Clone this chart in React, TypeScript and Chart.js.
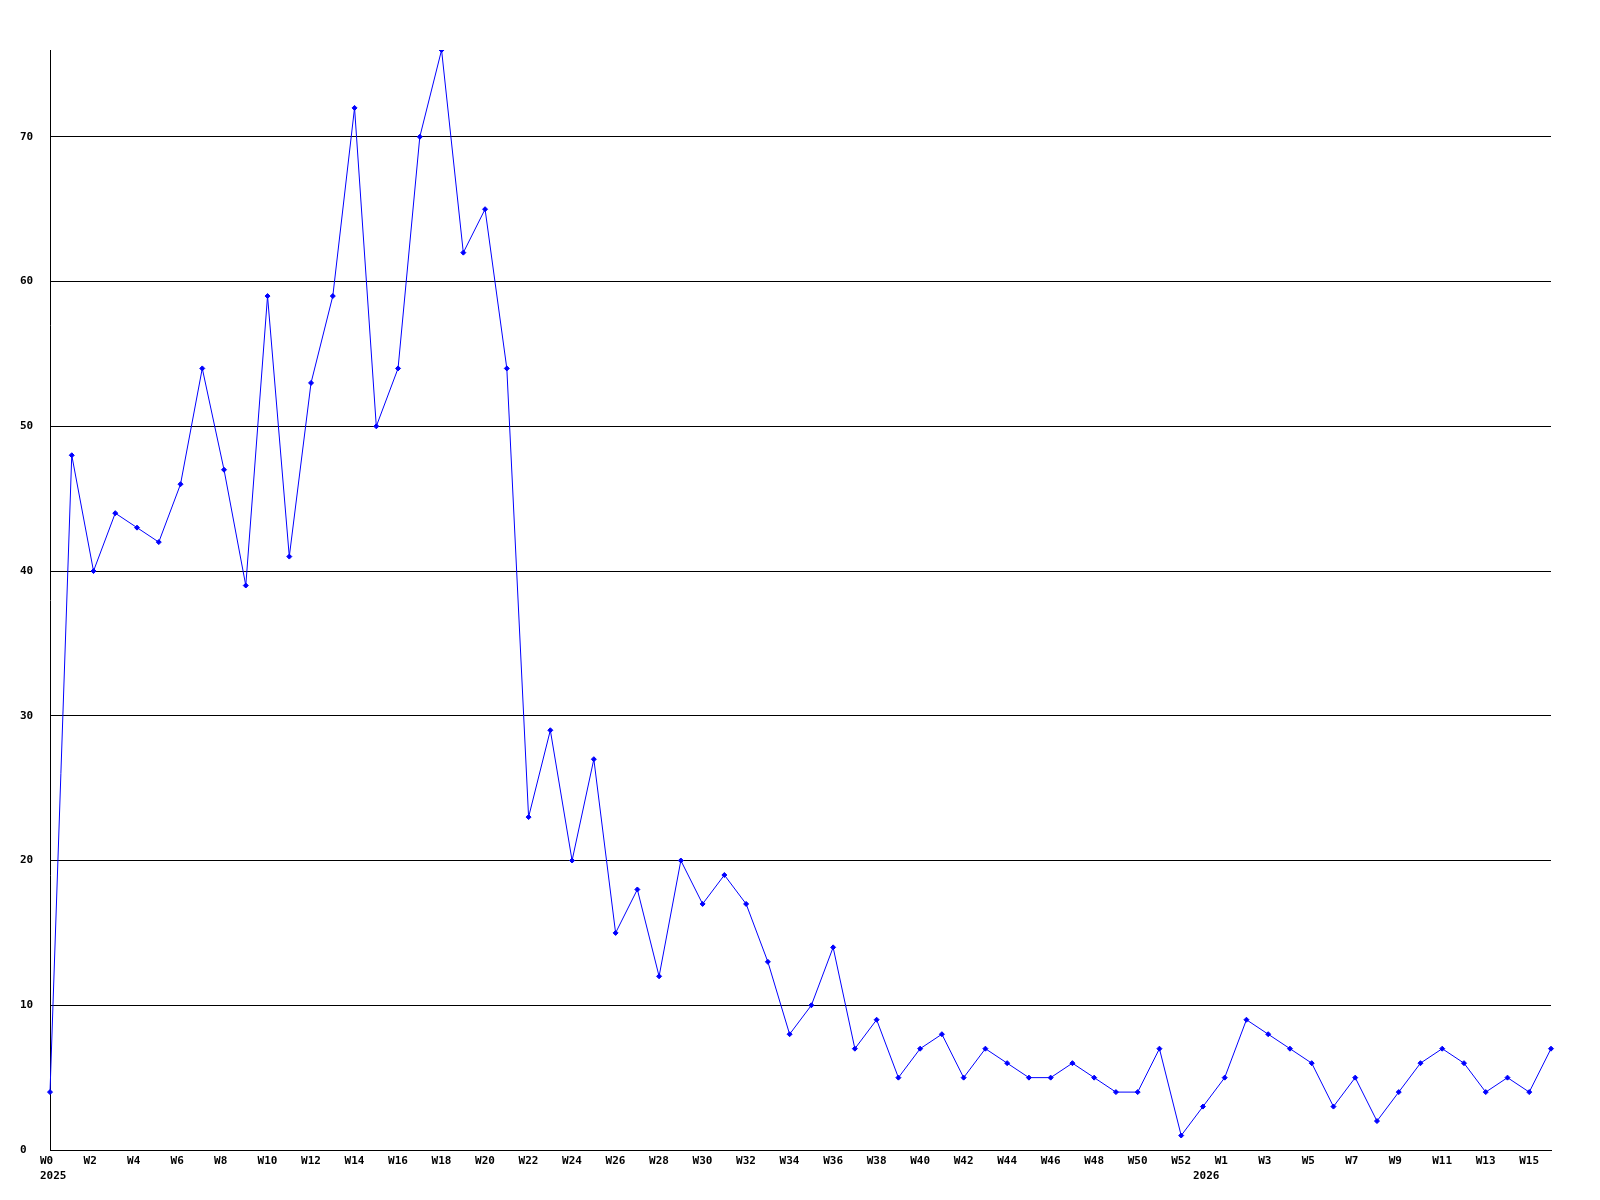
import React, { useEffect, useRef } from "react";
import { Chart, registerables } from "chart.js";

Chart.register(...registerables);

// Week labels: 2025 W0..W52, then 2026 W0..W16
const weeks2025: string[] = [
  "W0","W1","W2","W3","W4","W5","W6","W7","W8","W9",
  "W10","W11","W12","W13","W14","W15","W16","W17","W18","W19",
  "W20","W21","W22","W23","W24","W25","W26","W27","W28","W29",
  "W30","W31","W32","W33","W34","W35","W36","W37","W38","W39",
  "W40","W41","W42","W43","W44","W45","W46","W47","W48","W49",
  "W50","W51","W52",
];
const weeks2026: string[] = [
  "W0","W1","W2","W3","W4","W5","W6","W7","W8","W9",
  "W10","W11","W12","W13","W14","W15","W16",
];

const values2025: number[] = [
  4, 48, 40, 44, 43, 42, 46, 54, 47, 39,
  59, 41, 53, 59, 72, 50, 54, 70, 76, 62,
  65, 54, 23, 29, 20, 27, 15, 18, 12, 20,
  17, 19, 17, 13, 8, 10, 14, 7, 9, 5,
  7, 8, 5, 7, 6, 5, 5, 6, 5, 4,
  4, 7, 1,
];
const values2026: number[] = [
  3, 5, 9, 8, 7, 6, 3, 5, 2, 4,
  6, 7, 6, 4, 5, 4, 7,
];

const yearNames: string[] = ["2025", "2026"];
const yTickStep = 10;

export default function App() {
  const ref = useRef<HTMLCanvasElement | null>(null);

  useEffect(() => {
    document.body.style.margin = "0";
    const canvas = ref.current;
    if (!canvas) return;

    const labels = [...weeks2025, ...weeks2026];
    const data = [...values2025, ...values2026];
    const yearStart: Record<number, string> = {
      0: yearNames[0],
      [weeks2025.length]: yearNames[1],
    };
    const yMax = Math.max(...data);

    const font = { family: "'DejaVu Sans Mono', monospace", size: 11, weight: "bold" as const, lineHeight: "15px" };

    const chart = new Chart(canvas, {
      type: "line",
      data: {
        labels,
        datasets: [
          {
            data,
            borderColor: "#0000ff",
            backgroundColor: "#0000ff",
            borderWidth: 1,
            pointStyle: "rectRot",
            pointRadius: 2.5,
            pointBorderWidth: 1,
            pointBackgroundColor: "#0000ff",
            pointBorderColor: "#0000ff",
            tension: 0,
            fill: false,
          },
        ],
      },
      options: {
        animation: false,
        responsive: false,
        maintainAspectRatio: false,
        events: [],
        layout: { padding: { left: 20, top: 50, right: 49, bottom: 0 } },
        plugins: {
          legend: { display: false },
          tooltip: { enabled: false },
          title: { display: false },
        },
        scales: {
          x: {
            type: "category",
            offset: false,
            grid: { display: false, drawTicks: false },
            border: { display: true, color: "#000000", width: 1 },
            afterFit: (scale: any) => {
              scale.height = 50;
            },
            ticks: {
              autoSkip: false,
              maxRotation: 0,
              minRotation: 0,
              align: "start",
              labelOffset: -10,
              padding: 4,
              color: "#000000",
              font,
              callback: function (this: any, _v: any, index: number) {
                const wk = index % 2 === 0 ? labels[index] : "";
                const yr = yearStart[index];
                if (yr) return [wk, yr];
                return wk;
              },
            },
          },
          y: {
            type: "linear",
            min: 0,
            max: yMax,
            grid: { display: true, color: "#000000", lineWidth: 1, drawTicks: false },
            border: { display: true, color: "#000000", width: 1 },
            afterFit: (scale: any) => {
              scale.width = 30;
            },
            ticks: {
              stepSize: yTickStep,
              includeBounds: false,
              crossAlign: "far",
              padding: 0,
              color: "#000000",
              font,
            },
          },
        },
      },
    } as any);

    return () => {
      chart.destroy();
    };
  }, []);

  return (
    <div style={{ width: 1600, height: 1200, background: "#ffffff" }}>
      <canvas ref={ref} width={1600} height={1200} style={{ display: "block", width: 1600, height: 1200 }} />
    </div>
  );
}
